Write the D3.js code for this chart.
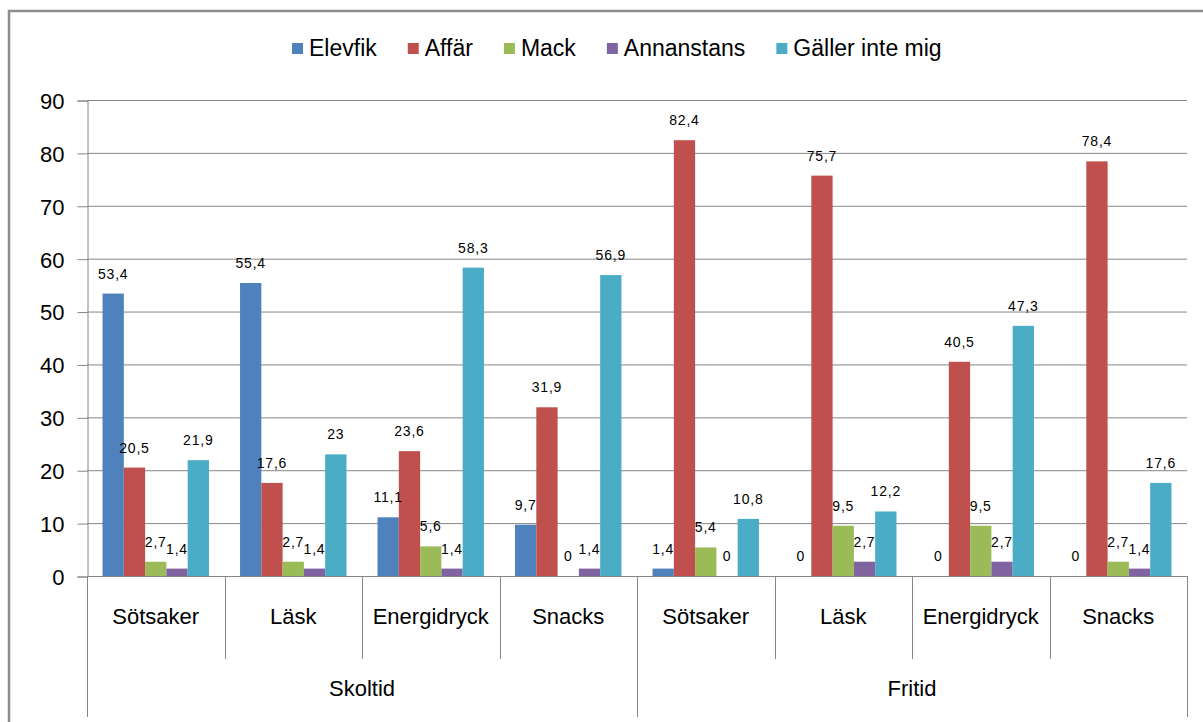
<!DOCTYPE html>
<html>
<head>
<meta charset="utf-8">
<script src="https://cdn.jsdelivr.net/npm/d3@7"></script>
<style>
  html, body { margin: 0; padding: 0; background: #fff; }
  svg { display: block; }
  text { font-family: "Liberation Sans", Arial, sans-serif; fill: #000; }
</style>
</head>
<body>
<svg id="chart" width="1203" height="722"></svg>
<script>
// Where students buy sweets, soda, energy drinks and snacks (percent)
const groups = ["Skoltid", "Fritid"];
const categories = ["Sötsaker", "Läsk", "Energidryck", "Snacks"];
const series = ["Elevfik", "Affär", "Mack", "Annanstans", "Gäller inte mig"];
const colors = ["#4F81BD", "#C0504D", "#9BBB59", "#8064A2", "#4BACC6"];
const yTicks = [0, 10, 20, 30, 40, 50, 60, 70, 80, 90];

// values per series, in order: Skoltid (Sötsaker, Läsk, Energidryck, Snacks), Fritid (same)
const elevfik    = [53.4, 55.4, 11.1,  9.7,  1.4,  0,    0,    0];
const affar      = [20.5, 17.6, 23.6, 31.9, 82.4, 75.7, 40.5, 78.4];
const mack       = [ 2.7,  2.7,  5.6,  0,    5.4,  9.5,  9.5,  2.7];
const annanstans = [ 1.4,  1.4,  1.4,  1.4,  0,    2.7,  2.7,  1.4];
const gallerInte = [21.9, 23,   58.3, 56.9, 10.8, 12.2, 47.3, 17.6];

const seriesValues = [elevfik, affar, mack, annanstans, gallerInte];

const svg = d3.select("#chart");
const plot = { left: 87, right: 1187, top: 100, bottom: 576 };
const axisColor = "#868686";

// Outer chart frame
svg.append("path")
  .attr("d", "M9,722 L9,11 L1203,11")
  .attr("fill", "none")
  .attr("stroke", "#8c8c8c")
  .attr("stroke-width", 2.5);

// Combined category keys
const rows = [];
groups.forEach((g, gi) => categories.forEach((c, ci) => rows.push({ key: g + "|" + c, group: g, cat: c, idx: gi * categories.length + ci })));

const x0 = d3.scaleBand().domain(rows.map(r => r.key)).range([plot.left, plot.right]);
const x1 = d3.scaleBand().domain(series).range([0, x0.bandwidth()]).paddingOuter(0.73);
const y = d3.scaleLinear().domain([0, 90]).range([plot.bottom, plot.top]);

// Gridlines
svg.append("g").selectAll("line").data(yTicks.filter(t => t > 0)).join("line")
  .attr("x1", plot.left).attr("x2", plot.right)
  .attr("y1", d => y(d) + 0.5).attr("y2", d => y(d) + 0.5)
  .attr("stroke", axisColor).attr("stroke-width", 1);

// Y axis
const yAxis = d3.axisLeft(y).tickValues(yTicks).tickSize(10).tickPadding(13).tickFormat(d3.format("d"));
const yg = svg.append("g").attr("transform", `translate(${plot.left + 0.5},0.5)`).call(yAxis);
yg.select(".domain").attr("stroke", axisColor);
yg.selectAll(".tick line").attr("stroke", axisColor);
yg.selectAll(".tick text").style("font-size", "22px").attr("fill", "#000").attr("dy", "0.36em");

// Bars
const barG = svg.append("g");
rows.forEach(r => {
  const g = barG.append("g").attr("transform", `translate(${x0(r.key)},0)`);
  series.forEach((s, si) => {
    const v = seriesValues[si][r.idx];
    g.append("rect")
      .attr("x", x1(s))
      .attr("y", y(v))
      .attr("width", x1.bandwidth())
      .attr("height", y(0) - y(v))
      .attr("fill", colors[si]);
  });
});

// Value labels
const labelG = svg.append("g");
rows.forEach(r => {
  series.forEach((s, si) => {
    const v = seriesValues[si][r.idx];
    labelG.append("text")
      .attr("x", x0(r.key) + x1(s) + x1.bandwidth() / 2)
      .attr("y", y(v) - 15)
      .attr("text-anchor", "middle")
      .style("font-size", "14px")
      .style("letter-spacing", "0.8px")
      .text(String(v).replace(".", ","));
  });
});

// X axis line
svg.append("line")
  .attr("x1", plot.left).attr("x2", plot.right)
  .attr("y1", plot.bottom + 0.5).attr("y2", plot.bottom + 0.5)
  .attr("stroke", axisColor);

// Category dividers and labels
const bounds = rows.map(r => x0(r.key)).concat([plot.right]);
bounds.forEach((bx, i) => {
  const isGroupEdge = i % categories.length === 0;
  svg.append("line")
    .attr("x1", Math.round(bx) + 0.5).attr("x2", Math.round(bx) + 0.5)
    .attr("y1", plot.bottom).attr("y2", isGroupEdge ? 717 : 659)
    .attr("stroke", axisColor);
});
svg.append("g").selectAll("text").data(rows).join("text")
  .attr("x", d => x0(d.key) + x0.bandwidth() / 2)
  .attr("y", 624)
  .attr("text-anchor", "middle")
  .style("font-size", "22px")
  .text(d => d.cat);

// Group labels
svg.append("g").selectAll("text").data(groups).join("text")
  .attr("x", g => {
    const first = x0(g + "|" + categories[0]);
    const last = x0(g + "|" + categories[categories.length - 1]) + x0.bandwidth();
    return (first + last) / 2;
  })
  .attr("y", 696)
  .attr("text-anchor", "middle")
  .style("font-size", "22px")
  .text(d => d);

// Legend
const legend = svg.append("g");
const legendGap = 31;
let lx = 0;
series.forEach((s, si) => {
  const item = legend.append("g").attr("transform", `translate(${lx},0)`);
  item.append("rect").attr("x", 0).attr("y", -13).attr("width", 11).attr("height", 11).attr("fill", colors[si]);
  const t = item.append("text").attr("x", 17).attr("y", 0).style("font-size", "23px").text(s);
  lx += 17 + t.node().getComputedTextLength() + legendGap;
});
const legendWidth = lx - legendGap;
legend.attr("transform", `translate(${Math.round(617 - legendWidth / 2)},56)`);
</script>
</body>
</html>
